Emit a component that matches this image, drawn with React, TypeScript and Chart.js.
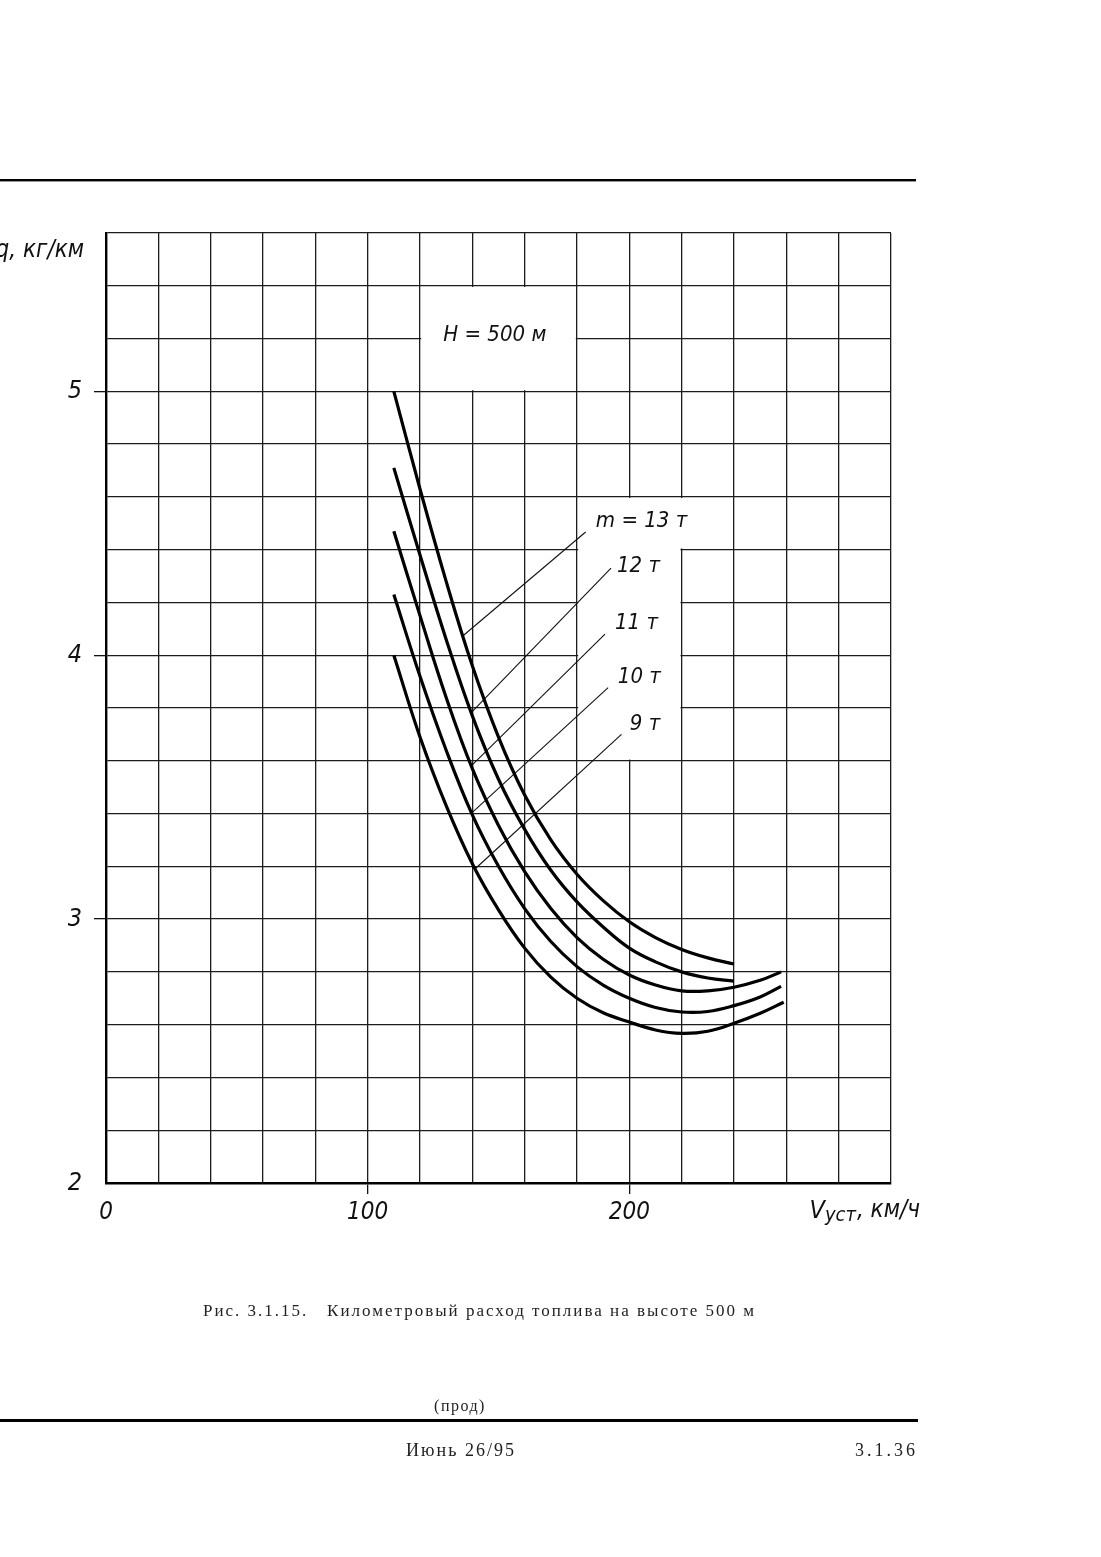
import React, { useEffect, useRef } from "react";
import { Chart, registerables } from "chart.js";

Chart.register(...registerables);

// ---------- data ----------
const speed13 = [110, 120, 130, 140, 150, 160, 170, 180, 190, 200, 210, 220, 230, 240];
const fuel13 = [5.0, 4.63, 4.28, 3.96, 3.69, 3.47, 3.3, 3.17, 3.07, 2.99, 2.93, 2.885, 2.853, 2.83];

const speed12 = [110, 120, 130, 140, 150, 160, 170, 180, 190, 200, 210, 220, 230, 240];
const fuel12 = [4.71, 4.38, 4.06, 3.77, 3.53, 3.34, 3.185, 3.065, 2.97, 2.89, 2.838, 2.8, 2.777, 2.765];

const speed11 = [110, 120, 130, 140, 150, 160, 170, 180, 190, 200, 210, 220, 230, 240, 250, 258];
const fuel11 = [4.47, 4.15, 3.84, 3.57, 3.355, 3.18, 3.04, 2.93, 2.848, 2.788, 2.75, 2.728, 2.728, 2.742, 2.768, 2.8];

const speed10 = [110, 120, 130, 140, 150, 160, 170, 180, 190, 200, 210, 220, 230, 240, 250, 258];
const fuel10 = [4.23, 3.92, 3.64, 3.395, 3.2, 3.04, 2.915, 2.82, 2.75, 2.7, 2.665, 2.648, 2.65, 2.672, 2.705, 2.745];

const speed9 = [110, 120, 130, 140, 150, 160, 170, 180, 190, 200, 210, 220, 230, 240, 250, 259];
const fuel9 = [4.0, 3.69, 3.43, 3.21, 3.035, 2.89, 2.78, 2.7, 2.645, 2.61, 2.58, 2.567, 2.575, 2.605, 2.643, 2.685];

const massLabels = ["m = 13 т", "12 т", "11 т", "10 т", "9 т"];

// leader lines (label -> curve), in data units
const leaderStartX = [183.3, 193.0, 190.7, 191.9, 197.0];
const leaderStartY = [4.467, 4.33, 4.08, 3.877, 3.7];
const leaderEndX = [136.0, 139.3, 139.5, 139.5, 141.0];
const leaderEndY = [4.07, 3.78, 3.58, 3.4, 3.19];

// label anchors, in data units
const labelAnchorX = [187.2, 195.3, 194.5, 195.6, 200.2];
const labelAnchorY = [4.508, 4.338, 4.122, 3.917, 3.739];

const xTickLabels = [0, 100, 200];
const yTickLabels = [2, 3, 4, 5];

const FONT = "'Liberation Sans Narrow', 'DejaVu Sans Condensed', 'Roboto Condensed', 'Liberation Sans', sans-serif";
const SERIF = "'Liberation Serif', 'DejaVu Serif', 'Times New Roman', serif";

const W = 1101;
const H = 1557;

const zip = (xs: number[], ys: number[]) => xs.map((x, i) => ({ x, y: ys[i] }));
const isWhole = (v: number) => Math.abs(v - Math.round(v)) < 1e-6;

const decorPlugin = {
  id: "decor",
  beforeDatasetsDraw(chart: any) {
    const { ctx, scales } = chart;
    const xs = scales.x;
    const ys = scales.y;
    const box = (x1: number, x2: number, y1: number, y2: number) => {
      const l = xs.getPixelForValue(x1) + 1.2;
      const r = xs.getPixelForValue(x2) - 1.2;
      const t = ys.getPixelForValue(y2) + 1.2;
      const b = ys.getPixelForValue(y1) - 1.2;
      ctx.fillRect(l, t, r - l, b - t);
    };
    ctx.save();
    ctx.fillStyle = "#ffffff";
    box(120, 180, 5.0, 5.4);
    box(180, 220, 3.6, 4.6);
    box(180, 240, 4.4, 4.6);
    ctx.restore();
  },
  afterDraw(chart: any) {
    const { ctx, scales, chartArea } = chart;
    const xs = scales.x;
    const ys = scales.y;
    ctx.save();
    ctx.fillStyle = "#111";
    ctx.textBaseline = "middle";

    // H = 500 м
    ctx.font = `italic 22px ${FONT}`;
    ctx.textAlign = "center";
    ctx.fillText("H = 500 м", xs.getPixelForValue(148.6), ys.getPixelForValue(5.213));

    // mass labels
    ctx.textAlign = "left";
    ctx.font = `italic 22px ${FONT}`;
    massLabels.forEach((s, i) => {
      ctx.fillText(s, xs.getPixelForValue(labelAnchorX[i]), ys.getPixelForValue(labelAnchorY[i]));
    });

    // y axis title
    ctx.textAlign = "right";
    ctx.font = `italic 24px ${FONT}`;
    ctx.fillText("q, кг/км", chartArea.left - 22, chartArea.top + 18);

    // x axis title
    ctx.textAlign = "left";
    const bx = xs.getPixelForValue(270) - 3;
    const by = chartArea.bottom + 28;
    ctx.font = `italic 25px ${FONT}`;
    ctx.fillText("V", bx, by);
    const vw = ctx.measureText("V").width;
    ctx.font = `italic 20px ${FONT}`;
    ctx.fillText("уст", bx + vw, by + 5);
    const sw = ctx.measureText("уст").width;
    ctx.font = `italic 24px ${FONT}`;
    ctx.fillText(", км/ч", bx + vw + sw + 1, by);

    // page rules
    ctx.fillStyle = "#000";
    ctx.fillRect(0, 179, 916, 2.4);
    ctx.fillRect(0, 1419, 918, 3);

    // caption and footer
    ctx.fillStyle = "#222";
    ctx.textBaseline = "alphabetic";
    ctx.textAlign = "left";
    ctx.font = `17px ${SERIF}`;
    (ctx as any).letterSpacing = "2px";
    ctx.fillText("Рис. 3.1.15.   Километровый расход топлива на высоте 500 м", 203, 1316);
    ctx.textAlign = "center";
    ctx.font = `16px ${SERIF}`;
    (ctx as any).letterSpacing = "1.5px";
    ctx.fillText("(прод)", 460, 1411);
    ctx.font = `18px ${SERIF}`;
    (ctx as any).letterSpacing = "2px";
    ctx.fillText("Июнь 26/95", 461, 1456);
    ctx.textAlign = "right";
    (ctx as any).letterSpacing = "3px";
    ctx.fillText("3.1.36", 918, 1456);
    ctx.restore();
  },
};

export default function App() {
  const ref = useRef<HTMLCanvasElement | null>(null);

  useEffect(() => {
    if (!ref.current) return;
    const curve = (xs: number[], ys: number[]) => ({
      data: zip(xs, ys),
      borderColor: "#000",
      borderWidth: 3.2,
      pointRadius: 0,
      fill: false,
      tension: 0.4,
    });
    const leaders = leaderStartX.map((_, i) => ({
      data: [
        { x: leaderStartX[i], y: leaderStartY[i] },
        { x: leaderEndX[i], y: leaderEndY[i] },
      ],
      borderColor: "#111",
      borderWidth: 1.1,
      pointRadius: 0,
      fill: false,
      tension: 0,
    }));

    const chart = new Chart(ref.current, {
      type: "line",
      data: {
        datasets: [
          curve(speed13, fuel13),
          curve(speed12, fuel12),
          curve(speed11, fuel11),
          curve(speed10, fuel10),
          curve(speed9, fuel9),
          ...leaders,
        ] as any,
      },
      options: {
        responsive: false,
        animation: false,
        devicePixelRatio: 1,
        layout: { padding: { left: 0, right: W - 891, top: 233, bottom: 0 } },
        plugins: {
          legend: { display: false },
          tooltip: { enabled: false },
          title: { display: false },
        },
        scales: {
          x: {
            type: "linear",
            min: 0,
            max: 300,
            ticks: {
              stepSize: 20,
              autoSkip: false,
              maxRotation: 0,
              padding: 4,
              color: "#111",
              font: { family: FONT, size: 24, style: "italic" },
              callback: (v: any) => (xTickLabels.some((t) => Math.abs(t - v) < 1e-6) ? String(Math.round(v)) : ""),
            },
            grid: {
              color: "#1c1c1c",
              lineWidth: 1.3,
              tickLength: 11,
              tickColor: (c: any) => (c.tick && (Math.abs(c.tick.value - 100) < 1e-6 || Math.abs(c.tick.value - 200) < 1e-6) ? "#111" : "rgba(0,0,0,0)"),
            },
            border: { display: true, color: "#000", width: 2.4 },
            afterFit: (s: any) => {
              s.height = H - 1183;
            },
          },
          y: {
            type: "linear",
            min: 2,
            max: 5.6,
            ticks: {
              stepSize: 0.2,
              autoSkip: false,
              padding: 12,
              color: "#111",
              font: { family: FONT, size: 25, style: "italic" },
              callback: (v: any) => (isWhole(v) && yTickLabels.includes(Math.round(v)) ? String(Math.round(v)) : ""),
            },
            grid: {
              color: "#1c1c1c",
              lineWidth: 1.3,
              tickLength: 12,
              tickColor: (c: any) => (c.tick && isWhole(c.tick.value) && Math.round(c.tick.value) > 2 ? "#111" : "rgba(0,0,0,0)"),
            },
            border: { display: true, color: "#000", width: 2.4 },
            afterFit: (s: any) => {
              s.width = 106;
            },
          },
        },
      } as any,
      plugins: [decorPlugin],
    });
    return () => chart.destroy();
  }, []);

  return (
    <div style={{ position: "absolute", left: 0, top: 0, width: W, height: H, background: "#fff" }}>
      <canvas ref={ref} width={W} height={H} style={{ width: W, height: H, display: "block" }} />
    </div>
  );
}
